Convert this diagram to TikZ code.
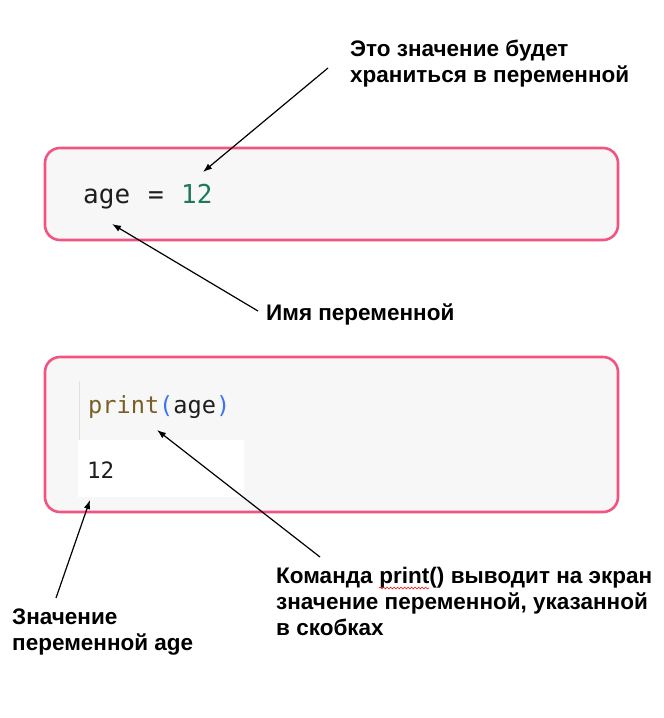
\documentclass[tikz,border=0pt]{standalone}
\usepackage{fontspec}
\setmainfont{Liberation Sans}
\newfontfamily\codefont{DejaVu Sans Mono}
\usetikzlibrary{arrows.meta,decorations.pathmorphing}
\definecolor{boxpink}{RGB}{242,84,128}
\definecolor{boxfill}{RGB}{247,247,247}
\definecolor{kwbrown}{RGB}{121,94,38}
\definecolor{parblue}{RGB}{59,114,246}
\definecolor{numgreen}{RGB}{30,122,86}
\definecolor{codeblack}{RGB}{30,30,30}
\begin{document}
\begin{tikzpicture}[x=1pt,y=-1pt,
  box/.style={draw=boxpink, line width=2.6pt, fill=boxfill, rounded corners=15pt, inner sep=0pt},
  lbl/.style={font=\bfseries\fontsize{22.5}{25}\selectfont, anchor=base west, inner sep=0pt},
  code/.style={anchor=base west, inner sep=0pt, text=codeblack},
  arr/.style={-{Latex[length=9pt,width=6.5pt]}, line width=1.2pt},
]
\useasboundingbox (0,0) rectangle (664,718);
% boxes
\node[box, minimum width=573pt, minimum height=92pt] (box1) at (331.5,194) {};
\node[box, minimum width=573pt, minimum height=155pt] (box2) at (331.5,434.5) {};
% code line 1
\node[code, font=\codefont\fontsize{26}{30}\selectfont] (age) at (83,203) {age};
\node[code, font=\codefont\fontsize{26}{30}\selectfont] (eq) at (148,203) {=};
\node[code, font=\codefont\fontsize{26}{30}\selectfont, text=numgreen] (num) at (181,203) {12};
% code cell 2
\coordinate (bar1) at (79,381);
\coordinate (bar2) at (79,440);
\draw[black!12, line width=0.8pt] (bar1) -- (bar2);
\node[fill=white, inner sep=0pt, minimum width=166pt, minimum height=57pt, anchor=north west] (out) at (78,440) {};
\node[code, font=\codefont\fontsize{23.6}{28}\selectfont] (pr) at (88,413)
  {\textcolor{kwbrown}{print}\textcolor{parblue}{(}age\textcolor{parblue}{)}};
\node[code, font=\codefont\fontsize{22.5}{27}\selectfont] (res) at (87,478) {12};
% labels
\node[lbl] (t1a) at (350,56) {Это значение будет};
\node[lbl] (t1b) at (350,82) {храниться в переменной};
\node[lbl] (t2) at (266,320) {Имя переменной};
\node[lbl] (t3a) at (276,583) {Команда};
\node[lbl] (t3p) at ([xshift=6.25pt]t3a.base east) {print()};
\node[lbl] (t3b) at ([xshift=6.25pt]t3p.base east) {выводит на экран};
\node[lbl] (t3c) at (276,609) {значение переменной, указанной};
\node[lbl] (t3d) at (276,635) {в скобках};
\node[lbl] (t4a) at (12,624) {Значение};
\node[lbl] (t4b) at (12,650) {переменной age};
\draw[red, line width=0.6pt, decorate, decoration={snake, amplitude=0.9pt, segment length=3.5pt}]
  ([yshift=-5pt]t3p.base west) -- ([xshift=50pt,yshift=-5pt]t3p.base west);
% arrows
\coordinate (a1s) at (328,68);  \coordinate (a1e) at (203,172);
\coordinate (a2s) at (258,311); \coordinate (a2e) at (112,224);
\coordinate (a3s) at (320,557); \coordinate (a3e) at (157,430);
\coordinate (a4s) at (56,598);  \coordinate (a4e) at (90,500);
\draw[arr] (a1s) -- (a1e);
\draw[arr] (a2s) -- (a2e);
\draw[arr] (a3s) -- (a3e);
\draw[arr] (a4s) -- (a4e);
\end{tikzpicture}
\end{document}
